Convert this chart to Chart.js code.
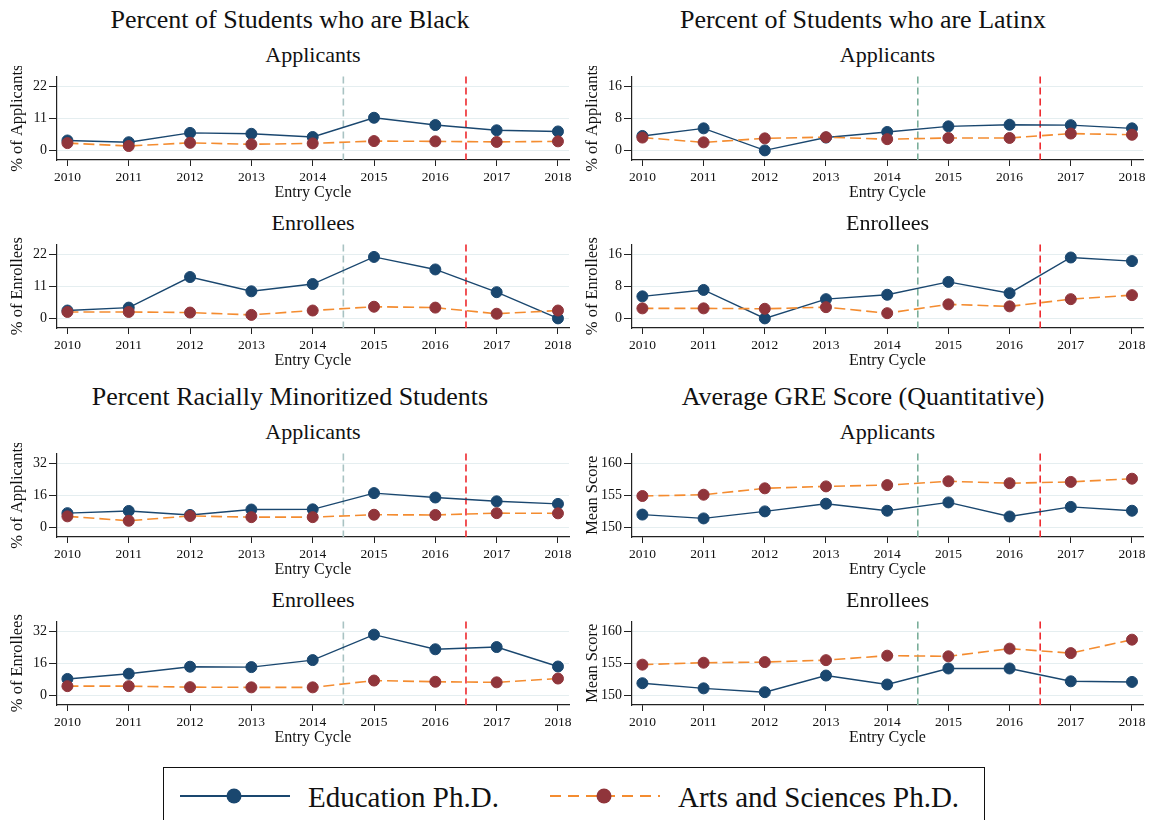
<!DOCTYPE html>
<html>
<head>
<meta charset="utf-8">
<script src="https://cdn.jsdelivr.net/npm/chart.js@4.4.1/dist/chart.umd.min.js"></script>
<style>
  body { margin: 0; background: #fff; width: 1151px; height: 820px; overflow: hidden; position: relative;
         font-family: 'Liberation Serif', 'Times New Roman', serif; color: #111; }
  .t { position: absolute; text-align: center; white-space: nowrap; }
  .main { font-size: 26px; height: 30px; line-height: 30px; }
  .sub { font-size: 22px; height: 26px; line-height: 26px; }
  canvas { position: absolute; }
  #legend { position: absolute; left: 163px; top: 767px; width: 822px; height: 70px;
            border: 1.5px solid #111; box-sizing: border-box; }
  #legend svg { position: absolute; left: 0; top: 0; }
  .lg { position: absolute; top: 11px; font-size: 29px; line-height: 36px; white-space: nowrap; }
</style>
</head>
<body>
<div id="legend">
  <svg width="822" height="70">
    <line x1="16" y1="28" x2="126" y2="28" stroke="#1a476f" stroke-width="2"/>
    <circle cx="70" cy="28" r="7.5" fill="#1a476f"/>
    <line x1="386" y1="28" x2="496" y2="28" stroke="#f48c30" stroke-width="2" stroke-dasharray="11 7"/>
    <circle cx="440" cy="28" r="7.5" fill="#90353b"/>
  </svg>
  <div class="lg" style="left:144px">Education Ph.D.</div>
  <div class="lg" style="left:514px">Arts and Sciences Ph.D.</div>
</div>
<script>
// Entry cycles and the two policy cut-offs marked on every panel
const years = [2010, 2011, 2012, 2013, 2014, 2015, 2016, 2017, 2018];
const cutoffs = [2014.5, 2016.5];

// Percent of students who are Black
const blackAppEdu  = [3.4, 2.8, 6.0, 5.7, 4.6, 11.2, 8.7, 6.9, 6.5];
const blackAppArts = [2.5, 1.5, 2.6, 2.1, 2.4, 3.2, 3.1, 2.9, 3.1];
const blackEnrEdu  = [2.7, 3.7, 14.2, 9.3, 11.8, 21.1, 16.8, 9.0, 0.0];
const blackEnrArts = [2.2, 2.2, 2.0, 1.2, 2.7, 4.0, 3.7, 1.6, 2.7];

// Percent of students who are Latinx
const latAppEdu  = [3.6, 5.5, 0.0, 3.2, 4.6, 6.0, 6.4, 6.3, 5.5];
const latAppArts = [3.2, 2.0, 3.0, 3.3, 2.8, 3.1, 3.1, 4.2, 3.9];
const latEnrEdu  = [5.5, 7.1, 0.0, 4.8, 5.9, 9.1, 6.3, 15.2, 14.3];
const latEnrArts = [2.5, 2.5, 2.4, 2.8, 1.3, 3.5, 3.0, 4.8, 5.8];

// Percent racially minoritized students
const minAppEdu  = [7.1, 8.2, 6.2, 8.9, 9.0, 17.1, 14.9, 13.0, 11.7];
const minAppArts = [5.5, 3.3, 5.7, 5.1, 5.1, 6.3, 6.2, 7.1, 7.0];
const minEnrEdu  = [8.2, 10.8, 14.3, 14.1, 17.6, 30.3, 23.0, 24.1, 14.4];
const minEnrArts = [4.6, 4.6, 4.1, 4.0, 4.0, 7.4, 6.8, 6.5, 8.4];

// Average GRE quantitative score
const greAppEdu  = [152.0, 151.4, 152.5, 153.7, 152.6, 153.9, 151.7, 153.2, 152.6];
const greAppArts = [154.9, 155.1, 156.1, 156.4, 156.6, 157.2, 156.9, 157.1, 157.6];
const greEnrEdu  = [151.9, 151.1, 150.5, 153.1, 151.7, 154.2, 154.2, 152.2, 152.1];
const greEnrArts = [154.8, 155.1, 155.2, 155.5, 156.2, 156.1, 157.3, 156.6, 158.7];

// Y-axis tick labels per measure
const blackTicks = [0, 11, 22];
const latTicks   = [0, 8, 16];
const minTicks   = [0, 16, 32];
const greTicks   = [150, 155, 160];

const titles = [
  { text: 'Percent of Students who are Black', col: 0, y: 20 },
  { text: 'Percent of Students who are Latinx', col: 1, y: 20 },
  { text: 'Percent Racially Minoritized Students', col: 0, y: 397 },
  { text: 'Average GRE Score (Quantitative)', col: 1, y: 397 }
];

const panels = [
  { col: 0, row: 0, sub: 'Applicants', yTitle: '% of Applicants', ticks: blackTicks, min: -3.3, max: 25.4, edu: blackAppEdu, arts: blackAppArts },
  { col: 0, row: 1, sub: 'Enrollees',  yTitle: '% of Enrollees',  ticks: blackTicks, min: -3.3, max: 25.4, edu: blackEnrEdu, arts: blackEnrArts },
  { col: 1, row: 0, sub: 'Applicants', yTitle: '% of Applicants', ticks: latTicks, min: -2.4, max: 18.47, edu: latAppEdu, arts: latAppArts },
  { col: 1, row: 1, sub: 'Enrollees',  yTitle: '% of Enrollees',  ticks: latTicks, min: -2.4, max: 18.47, edu: latEnrEdu, arts: latEnrArts },
  { col: 0, row: 2, sub: 'Applicants', yTitle: '% of Applicants', ticks: minTicks, min: -4.8, max: 36.9, edu: minAppEdu, arts: minAppArts },
  { col: 0, row: 3, sub: 'Enrollees',  yTitle: '% of Enrollees',  ticks: minTicks, min: -4.8, max: 36.9, edu: minEnrEdu, arts: minEnrArts },
  { col: 1, row: 2, sub: 'Applicants', yTitle: 'Mean Score', ticks: greTicks, min: 148.5, max: 161.55, edu: greAppEdu, arts: greAppArts },
  { col: 1, row: 3, sub: 'Enrollees',  yTitle: 'Mean Score', ticks: greTicks, min: 148.5, max: 161.55, edu: greEnrEdu, arts: greEnrArts }
];

// Layout geometry
const colLeft  = [0, 575];
const colWidth = [580, 576];
const colPadRight = [11, 8];
const rowOffset = [0, 168, 377, 545];
const subY = [55, 223, 432, 600];
const cutoffColors = [['#a9c3c3', '#ee2a2f'], ['#7aae9a', '#ee2a2f']];
const FONT = "'Liberation Serif', 'Times New Roman', serif";

const EDU = '#1a476f', ARTS_LINE = '#f48c30', ARTS_MARK = '#90353b';

// Dashed vertical lines at the cut-off cycles
const cutoffPlugin = {
  id: 'cutoffs',
  beforeDatasetsDraw(chart, args, opts) {
    const { ctx, chartArea, scales } = chart;
    opts.values.forEach((v, i) => {
      const px = scales.x.getPixelForValue(v);
      ctx.save();
      ctx.strokeStyle = opts.colors[i];
      ctx.lineWidth = 1.6;
      ctx.setLineDash([7, 4]);
      ctx.beginPath();
      ctx.moveTo(px, chartArea.top);
      ctx.lineTo(px, chartArea.bottom);
      ctx.stroke();
      ctx.restore();
    });
  }
};

titles.forEach(t => {
  const d = document.createElement('div');
  d.className = 't main';
  d.textContent = t.text;
  d.style.left = colLeft[t.col] + 'px';
  d.style.width = colWidth[t.col] + 'px';
  d.style.top = (t.y - 15) + 'px';
  document.body.appendChild(d);
});

panels.forEach(p => {
  const top = 66 + rowOffset[p.row];
  const left = colLeft[p.col];
  const width = colWidth[p.col];

  const s = document.createElement('div');
  s.className = 't sub';
  s.textContent = p.sub;
  const plotL = left + 57, plotR = left + width - colPadRight[p.col];
  s.style.left = plotL + 'px';
  s.style.width = (plotR - plotL) + 'px';
  s.style.top = (subY[p.row] - 13) + 'px';
  document.body.appendChild(s);

  const c = document.createElement('canvas');
  c.width = width; c.height = 136;
  c.style.left = left + 'px'; c.style.top = top + 'px';
  document.body.appendChild(c);

  new Chart(c, {
    type: 'line',
    data: {
      datasets: [
        {
          label: 'Arts and Sciences Ph.D.',
          data: years.map((y, i) => ({ x: y, y: p.arts[i] })),
          borderColor: ARTS_LINE, borderWidth: 1.6, borderDash: [11, 5],
          pointRadius: 5.5, pointBackgroundColor: ARTS_MARK, pointBorderColor: ARTS_MARK, pointBorderWidth: 1,
          tension: 0, clip: false
        },
        {
          label: 'Education Ph.D.',
          data: years.map((y, i) => ({ x: y, y: p.edu[i] })),
          borderColor: EDU, borderWidth: 1.4,
          pointRadius: 5.5, pointBackgroundColor: EDU, pointBorderColor: EDU, pointBorderWidth: 1,
          tension: 0, clip: false
        }
      ]
    },
    options: {
      responsive: false, animation: false, devicePixelRatio: 1, events: [],
      layout: { padding: { top: 7, right: colPadRight[p.col], bottom: 0, left: 0 } },
      plugins: {
        legend: { display: false }, tooltip: { enabled: false },
        cutoffs: { values: cutoffs, colors: cutoffColors[p.col] }
      },
      scales: {
        x: {
          type: 'linear', min: 2009.83, max: 2018.18,
          afterBuildTicks: sc => { sc.ticks = years.map(v => ({ value: v })); },
          afterFit: sc => { sc.height = 42; },
          ticks: { autoSkip: false, maxRotation: 0, padding: 3, color: '#111',
                   font: { family: FONT, size: 13.5 }, callback: v => String(v) },
          grid: { drawOnChartArea: false, tickLength: 6, tickColor: '#222', tickWidth: 1 },
          border: { color: '#222', width: 1.2 },
          title: { display: true, text: 'Entry Cycle', color: '#111', padding: { top: 0, bottom: 0 },
                   font: { family: FONT, size: 16 } }
        },
        y: {
          min: p.min, max: p.max,
          afterBuildTicks: sc => { sc.ticks = p.ticks.map(v => ({ value: v })); },
          afterFit: sc => { sc.width = 57; },
          ticks: { padding: 2, color: '#111', font: { family: FONT, size: 14 } },
          grid: { color: '#e5eef0', lineWidth: 1, tickLength: 8, tickColor: '#222', tickWidth: 1 },
          border: { color: '#222', width: 1.2 },
          title: { display: true, text: p.yTitle, color: '#111', padding: { top: 8, bottom: 0 },
                   font: { family: FONT, size: 16.5 } }
        }
      }
    },
    plugins: [cutoffPlugin]
  });
});
</script>
</body>
</html>
